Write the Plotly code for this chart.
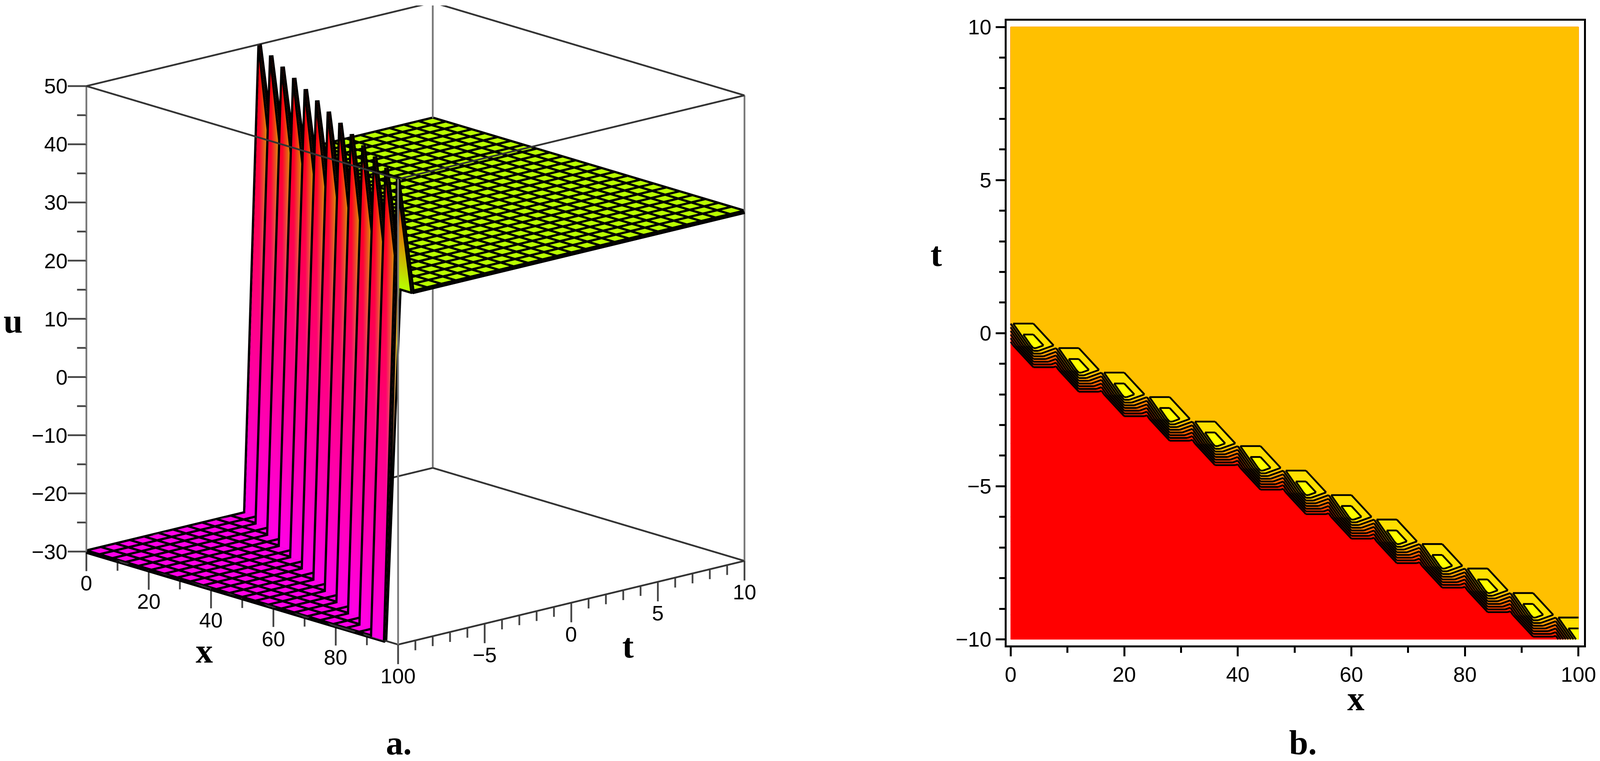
import colorsys
import plotly.graph_objects as go

W = 4233
H = 1949

# panel a, surface on a 25 x 25 mesh
x_a = [0, 4.17, 8.33, 12.5, 16.67, 20.83, 25, 29.17, 33.33, 37.5, 41.67, 45.83, 50,
       54.17, 58.33, 62.5, 66.67, 70.83, 75, 79.17, 83.33, 87.5, 91.67, 95.83, 100]
t_a = [-10, -9.17, -8.33, -7.5, -6.67, -5.83, -5, -4.17, -3.33, -2.5, -1.67, -0.83, 0,
       0.83, 1.67, 2.5, 3.33, 4.17, 5, 5.83, 6.67, 7.5, 8.33, 9.17, 10]
u_a = [
    [-30,-30,-30,-30,-30,-30,-30,-30,-30,-30,-30,-30,-30,-30,-30,-30,-30,-30,-30,-30,-30,-30,-30,-30,50],
    [-30,-30,-30,-30,-30,-30,-30,-30,-30,-30,-30,-30,-30,-30,-30,-30,-30,-30,-30,-30,-30,-30,50,30,30],
    [-30,-30,-30,-30,-30,-30,-30,-30,-30,-30,-30,-30,-30,-30,-30,-30,-30,-30,-30,-30,50,30,30,30,30],
    [-30,-30,-30,-30,-30,-30,-30,-30,-30,-30,-30,-30,-30,-30,-30,-30,-30,-30,50,30,30,30,30,30,30],
    [-30,-30,-30,-30,-30,-30,-30,-30,-30,-30,-30,-30,-30,-30,-30,-30,50,30,30,30,30,30,30,30,30],
    [-30,-30,-30,-30,-30,-30,-30,-30,-30,-30,-30,-30,-30,-30,50,30,30,30,30,30,30,30,30,30,30],
    [-30,-30,-30,-30,-30,-30,-30,-30,-30,-30,-30,-30,50,30,30,30,30,30,30,30,30,30,30,30,30],
    [-30,-30,-30,-30,-30,-30,-30,-30,-30,-30,50,30,30,30,30,30,30,30,30,30,30,30,30,30,30],
    [-30,-30,-30,-30,-30,-30,-30,-30,50,30,30,30,30,30,30,30,30,30,30,30,30,30,30,30,30],
    [-30,-30,-30,-30,-30,-30,50,30,30,30,30,30,30,30,30,30,30,30,30,30,30,30,30,30,30],
    [-30,-30,-30,-30,50,30,30,30,30,30,30,30,30,30,30,30,30,30,30,30,30,30,30,30,30],
    [-30,-30,50,30,30,30,30,30,30,30,30,30,30,30,30,30,30,30,30,30,30,30,30,30,30],
    [50,30,30,30,30,30,30,30,30,30,30,30,30,30,30,30,30,30,30,30,30,30,30,30,30],
    [30,30,30,30,30,30,30,30,30,30,30,30,30,30,30,30,30,30,30,30,30,30,30,30,30],
    [30,30,30,30,30,30,30,30,30,30,30,30,30,30,30,30,30,30,30,30,30,30,30,30,30],
    [30,30,30,30,30,30,30,30,30,30,30,30,30,30,30,30,30,30,30,30,30,30,30,30,30],
    [30,30,30,30,30,30,30,30,30,30,30,30,30,30,30,30,30,30,30,30,30,30,30,30,30],
    [30,30,30,30,30,30,30,30,30,30,30,30,30,30,30,30,30,30,30,30,30,30,30,30,30],
    [30,30,30,30,30,30,30,30,30,30,30,30,30,30,30,30,30,30,30,30,30,30,30,30,30],
    [30,30,30,30,30,30,30,30,30,30,30,30,30,30,30,30,30,30,30,30,30,30,30,30,30],
    [30,30,30,30,30,30,30,30,30,30,30,30,30,30,30,30,30,30,30,30,30,30,30,30,30],
    [30,30,30,30,30,30,30,30,30,30,30,30,30,30,30,30,30,30,30,30,30,30,30,30,30],
    [30,30,30,30,30,30,30,30,30,30,30,30,30,30,30,30,30,30,30,30,30,30,30,30,30],
    [30,30,30,30,30,30,30,30,30,30,30,30,30,30,30,30,30,30,30,30,30,30,30,30,30],
    [30,30,30,30,30,30,30,30,30,30,30,30,30,30,30,30,30,30,30,30,30,30,30,30,30],
]

# panel b, contour map on a 26 x 26 mesh
x_b = [0, 4, 8, 12, 16, 20, 24, 28, 32, 36, 40, 44, 48, 52, 56, 60, 64, 68, 72, 76, 80, 84, 88, 92, 96, 100]
t_b = [-10, -9.2, -8.4, -7.6, -6.8, -6, -5.2, -4.4, -3.6, -2.8, -2, -1.2, -0.4,
       0.4, 1.2, 2, 2.8, 3.6, 4.4, 5.2, 6, 6.8, 7.6, 8.4, 9.2, 10]
u_b = [
    [-30,-30,-30,-30,-30,-30,-30,-30,-30,-30,-30,-30,-30,-30,-30,-30,-30,-30,-30,-30,-30,-30,-30,-30,-30,50],
    [-30,-30,-30,-30,-30,-30,-30,-30,-30,-30,-30,-30,-30,-30,-30,-30,-30,-30,-30,-30,-30,-30,-30,50,30,30],
    [-30,-30,-30,-30,-30,-30,-30,-30,-30,-30,-30,-30,-30,-30,-30,-30,-30,-30,-30,-30,-30,50,30,30,30,30],
    [-30,-30,-30,-30,-30,-30,-30,-30,-30,-30,-30,-30,-30,-30,-30,-30,-30,-30,-30,50,30,30,30,30,30,30],
    [-30,-30,-30,-30,-30,-30,-30,-30,-30,-30,-30,-30,-30,-30,-30,-30,-30,50,30,30,30,30,30,30,30,30],
    [-30,-30,-30,-30,-30,-30,-30,-30,-30,-30,-30,-30,-30,-30,-30,50,30,30,30,30,30,30,30,30,30,30],
    [-30,-30,-30,-30,-30,-30,-30,-30,-30,-30,-30,-30,-30,50,30,30,30,30,30,30,30,30,30,30,30,30],
    [-30,-30,-30,-30,-30,-30,-30,-30,-30,-30,-30,50,30,30,30,30,30,30,30,30,30,30,30,30,30,30],
    [-30,-30,-30,-30,-30,-30,-30,-30,-30,50,30,30,30,30,30,30,30,30,30,30,30,30,30,30,30,30],
    [-30,-30,-30,-30,-30,-30,-30,50,30,30,30,30,30,30,30,30,30,30,30,30,30,30,30,30,30,30],
    [-30,-30,-30,-30,-30,50,30,30,30,30,30,30,30,30,30,30,30,30,30,30,30,30,30,30,30,30],
    [-30,-30,-30,50,30,30,30,30,30,30,30,30,30,30,30,30,30,30,30,30,30,30,30,30,30,30],
    [-30,50,30,30,30,30,30,30,30,30,30,30,30,30,30,30,30,30,30,30,30,30,30,30,30,30],
    [30,30,30,30,30,30,30,30,30,30,30,30,30,30,30,30,30,30,30,30,30,30,30,30,30,30],
    [30,30,30,30,30,30,30,30,30,30,30,30,30,30,30,30,30,30,30,30,30,30,30,30,30,30],
    [30,30,30,30,30,30,30,30,30,30,30,30,30,30,30,30,30,30,30,30,30,30,30,30,30,30],
    [30,30,30,30,30,30,30,30,30,30,30,30,30,30,30,30,30,30,30,30,30,30,30,30,30,30],
    [30,30,30,30,30,30,30,30,30,30,30,30,30,30,30,30,30,30,30,30,30,30,30,30,30,30],
    [30,30,30,30,30,30,30,30,30,30,30,30,30,30,30,30,30,30,30,30,30,30,30,30,30,30],
    [30,30,30,30,30,30,30,30,30,30,30,30,30,30,30,30,30,30,30,30,30,30,30,30,30,30],
    [30,30,30,30,30,30,30,30,30,30,30,30,30,30,30,30,30,30,30,30,30,30,30,30,30,30],
    [30,30,30,30,30,30,30,30,30,30,30,30,30,30,30,30,30,30,30,30,30,30,30,30,30,30],
    [30,30,30,30,30,30,30,30,30,30,30,30,30,30,30,30,30,30,30,30,30,30,30,30,30,30],
    [30,30,30,30,30,30,30,30,30,30,30,30,30,30,30,30,30,30,30,30,30,30,30,30,30,30],
    [30,30,30,30,30,30,30,30,30,30,30,30,30,30,30,30,30,30,30,30,30,30,30,30,30,30],
    [30,30,30,30,30,30,30,30,30,30,30,30,30,30,30,30,30,30,30,30,30,30,30,30,30,30],
]
levels_b = [-30, -21.1, -12.2, -3.3, 5.6, 14.4, 23.3, 32.2, 41.1]
band_colors = ["#FF0000", "#FF2000", "#FF4000", "#FF6000", "#FF8000", "#FFA000", "#FFC000", "#FFDF00", "#FFFF00"]

# ticks
x_major_a = [0, 20, 40, 60, 80, 100]
x_minor_a = [10, 30, 50, 70, 90]
t_major_a = [-5, 0, 5, 10]
t_text_a = ["−5", "0", "5", "10"]
t_minor_a = [-9, -8, -7, -6, -4, -3, -2, -1, 1, 2, 3, 4, 6, 7, 8, 9]
u_major_a = [-30, -20, -10, 0, 10, 20, 30, 40, 50]
u_text_a = ["−30", "−20", "−10", "0", "10", "20", "30", "40", "50"]
u_minor_a = [-25, -15, -5, 5, 15, 25, 35, 45]
x_ticks_b = [0, 20, 40, 60, 80, 100]
t_ticks_b = [-10, -5, 0, 5, 10]
t_text_b = ["−10", "−5", "0", "5", "10"]

TICK_FONT = "Liberation Sans, sans-serif"
TITLE_FONT = "Liberation Serif, serif"

# view of panel a
EYE = (0.7161, -0.6444, 0.2686)
EYE_DIST = 2.0
ZOOM = 1.242
# the hidden axes run past the box so the ticks are not clipped, more below to lift the box
PAD_X, PAD_T, PAD_LOW, PAD_HIGH = 4, 1, 25, 5.4
ASPECT_U = 1.0375
# horizontal screen direction inside the x-t plane, per unit of the box
SIDE_X, SIDE_T = 0.6689, 0.7434
MAJOR_U = 3.36    # tick length, in u units
MINOR_U = 1.7
MAJOR_S = 0.04    # tick length, in box widths
MINOR_S = 0.02


def zhue(u):
    # maple zhue shading, magenta at the bottom round to red at the top
    hue = 306 * (50 - u) / 80 / 360
    r, g, b = colorsys.hsv_to_rgb(hue, 1, 1)
    return "rgb(%d,%d,%d)" % (r * 255, g * 255, b * 255)


def triangles(nx, nt):
    out = []
    for jj in range(nt - 1):
        for ii in range(nx - 1):
            a = jj * nx + ii
            b = a + 1
            c = a + nx
            d = c + 1
            out.append((a, b, c))
            out.append((b, d, c))
    return out


def clip_above(poly, level):
    # keep the part of a polygon where u >= level
    out = []
    for n in range(len(poly)):
        p = poly[n]
        q = poly[(n + 1) % len(poly)]
        if p[2] >= level:
            out.append(p)
        if (p[2] >= level) != (q[2] >= level):
            f = (level - p[2]) / (q[2] - p[2])
            out.append((p[0] + f * (q[0] - p[0]), p[1] + f * (q[1] - p[1]), level))
    return out


def lines3d(segments, color, width):
    sx, sy, sz = [], [], []
    for a, b in segments:
        sx += [a[0], b[0], None]
        sy += [a[1], b[1], None]
        sz += [a[2], b[2], None]
    return go.Scatter3d(x=sx, y=sy, z=sz, mode="lines", line=dict(color=color, width=width),
                        hoverinfo="skip", showlegend=False, scene="scene")


fig = go.Figure()

# panel a
vx, vy, vz = [], [], []
for jj, row in enumerate(u_a):
    for ii, val in enumerate(row):
        vx.append(x_a[ii])
        vy.append(t_a[jj])
        vz.append(val)
tri_a = triangles(len(x_a), len(t_a))
fig.add_trace(go.Mesh3d(
    x=vx, y=vy, z=vz,
    i=[p[0] for p in tri_a], j=[p[1] for p in tri_a], k=[p[2] for p in tri_a],
    vertexcolor=[zhue(v) for v in vz],
    lighting=dict(ambient=1, diffuse=0, specular=0, roughness=1, fresnel=0),
    flatshading=False, hoverinfo="skip", scene="scene",
))

wx, wy, wz = [], [], []
for jj, row in enumerate(u_a):
    wx += x_a + [None]
    wy += [t_a[jj]] * len(x_a) + [None]
    wz += row + [None]
for ii in range(len(x_a)):
    wx += [x_a[ii]] * len(t_a) + [None]
    wy += t_a + [None]
    wz += [row[ii] for row in u_a] + [None]
fig.add_trace(go.Scatter3d(x=wx, y=wy, z=wz, mode="lines", line=dict(color="black", width=23),
                           hoverinfo="skip", showlegend=False, scene="scene"))

# box of panel a
corners_x = [(0, -10), (100, -10), (100, 10), (0, 10)]
flat_edges = []
for u in (-30, 50):
    for n in range(4):
        p = corners_x[n]
        q = corners_x[(n + 1) % 4]
        flat_edges.append(((p[0], p[1], u), (q[0], q[1], u)))
fig.add_trace(lines3d(flat_edges, "#333333", 9))
fig.add_trace(lines3d([((p[0], p[1], -30), (p[0], p[1], 50)) for p in corners_x], "#777777", 9))

# ticks of panel a
ticks = []
for v, du in [(v, MAJOR_U) for v in x_major_a] + [(v, MINOR_U) for v in x_minor_a]:
    ticks.append(((v, -10, -30), (v, -10, -30 - du)))
for v, du in [(v, MAJOR_U) for v in t_major_a] + [(v, MINOR_U) for v in t_minor_a]:
    ticks.append(((100, v, -30), (100, v, -30 - du)))
for v, ds in [(v, MAJOR_S) for v in u_major_a] + [(v, MINOR_S) for v in u_minor_a]:
    ticks.append(((0, -10, v), (-SIDE_X * ds * 100, -10 - SIDE_T * ds * 20, v)))
fig.add_trace(lines3d(ticks, "#444444", 9))

scene_notes = []
for v in x_major_a:
    scene_notes.append(dict(x=v, y=-10, z=-30, text=str(v), showarrow=False, yshift=-80,
                            font=dict(family=TICK_FONT, size=54, color="black")))
for v, text in zip(t_major_a, t_text_a):
    scene_notes.append(dict(x=100, y=v, z=-30, text=text, showarrow=False, yshift=-80,
                            font=dict(family=TICK_FONT, size=54, color="black")))
for v, text in zip(u_major_a, u_text_a):
    scene_notes.append(dict(x=0, y=-10, z=v, text=text, showarrow=False, xanchor="right", xshift=-46,
                            font=dict(family=TICK_FONT, size=54, color="black")))

# panel b, filled bands painted from the bottom up, then the contour lines
pts_b = []
for jj, row in enumerate(u_b):
    for ii, val in enumerate(row):
        pts_b.append((x_b[ii], t_b[jj], val))
tri_b = triangles(len(x_b), len(t_b))

for level, color in zip(levels_b, band_colors):
    px, py = [], []
    for tri in tri_b:
        poly = clip_above([pts_b[n] for n in tri], level)
        if poly:
            px += [p[0] for p in poly] + [poly[0][0], None]
            py += [p[1] for p in poly] + [poly[0][1], None]
    fig.add_trace(go.Scatter(x=px, y=py, mode="lines", fill="toself", fillcolor=color,
                             line=dict(color=color, width=1), hoverinfo="skip",
                             showlegend=False, xaxis="x", yaxis="y"))

lx, ly = [], []
for level in levels_b[1:]:
    for tri in tri_b:
        cut = [p for p in clip_above([pts_b[n] for n in tri], level) if p[2] == level]
        if len(cut) == 2:
            lx += [cut[0][0], cut[1][0], None]
            ly += [cut[0][1], cut[1][1], None]
fig.add_trace(go.Scatter(x=lx, y=ly, mode="lines", line=dict(color="black", width=4.6),
                         hoverinfo="skip", showlegend=False, xaxis="x", yaxis="y"))

fig.update_layout(
    autosize=True,
    margin=dict(l=0, r=0, t=0, b=0),
    paper_bgcolor="white", plot_bgcolor="white",
    showlegend=False,
    scene=dict(
        domain=dict(x=[0, 2208 / W], y=[0, 1]),
        aspectmode="manual",
        aspectratio=dict(x=ZOOM * (100 + 2 * PAD_X) / 100, y=ZOOM * (20 + 2 * PAD_T) / 20,
                         z=ZOOM * ASPECT_U * (80 + PAD_LOW + PAD_HIGH) / 80),
        camera=dict(eye=dict(x=EYE[0] * EYE_DIST, y=EYE[1] * EYE_DIST, z=EYE[2] * EYE_DIST),
                    up=dict(x=0, y=0, z=1), center=dict(x=0, y=0, z=0),
                    projection=dict(type="orthographic")),
        xaxis=dict(visible=False, range=[-PAD_X, 100 + PAD_X]),
        yaxis=dict(visible=False, range=[-10 - PAD_T, 10 + PAD_T]),
        zaxis=dict(visible=False, range=[-30 - PAD_LOW, 50 + PAD_HIGH]),
        annotations=scene_notes,
    ),
    xaxis=dict(domain=[2681 / W, 4222 / W], range=[-0.73, 101], anchor="y",
               tickvals=x_ticks_b, ticks="outside", ticklen=23, tickwidth=4.6,
               ticklabeloverflow="allow",
               minor=dict(dtick=10, ticks="outside", ticklen=14, tickwidth=4.6, tickcolor="black"),
               showgrid=False, zeroline=False, showline=True, mirror=True, linecolor="black",
               linewidth=4.6, tickcolor="black",
               tickfont=dict(family=TICK_FONT, size=54, color="black")),
    yaxis=dict(domain=[1 - 1663 / H, 1 - 40 / H], range=[-10.2, 10.2], anchor="x",
               tickvals=t_ticks_b, ticktext=t_text_b, ticks="outside", ticklen=23, tickwidth=4.6,
               ticklabeloverflow="allow",
               minor=dict(dtick=1, ticks="outside", ticklen=14, tickwidth=4.6, tickcolor="black"),
               showgrid=False, zeroline=False, showline=True, mirror=True, linecolor="black",
               linewidth=4.6, tickcolor="black",
               tickfont=dict(family=TICK_FONT, size=54, color="black")),
)

# axis names and captions: text, x pixel, y pixel
labels = [("u", 31, 820), ("x", 541, 1678), ("t", 1671, 1664), ("a.", 1060, 1916),
          ("x", 3613, 1801), ("t", 2493, 647), ("b.", 3472, 1916)]
for text, px, py in labels:
    fig.add_annotation(text="<b>%s</b>" % text, x=px / W, y=1 - py / H, xref="paper", yref="paper",
                       showarrow=False, xanchor="center", yanchor="middle",
                       font=dict(family=TITLE_FONT, size=88, color="black"))

# fill the browser window whatever its size
fig.write_html("out.html", config={"displayModeBar": False},
               default_width="100vw", default_height="100vh",
               post_script="document.body.style.margin='0';document.body.style.overflow='hidden';"
                           "Plotly.Plots.resize(document.getElementById('{plot_id}'));")
